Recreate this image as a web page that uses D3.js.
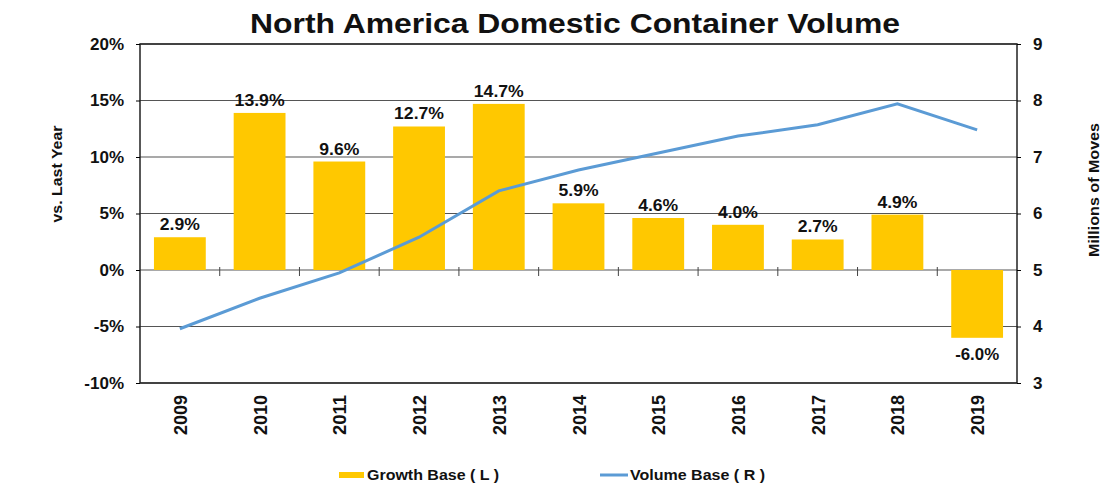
<!DOCTYPE html>
<html>
<head>
<meta charset="utf-8">
<script src="https://cdn.jsdelivr.net/npm/d3@7"></script>
<style>
  body { margin: 0; background: #fff; }
  text { font-family: "Liberation Sans", Arial, sans-serif; font-weight: bold; fill: #111; }
</style>
</head>
<body>
<div id="chart"></div>
<script>
// Chart data
var years = ["2009", "2010", "2011", "2012", "2013", "2014", "2015", "2016", "2017", "2018", "2019"];
var growth = [2.9, 13.9, 9.6, 12.7, 14.7, 5.9, 4.6, 4.0, 2.7, 4.9, -6.0];
var volume = [3.96, 4.5, 4.95, 5.58, 6.4, 6.77, 7.07, 7.37, 7.57, 7.94, 7.48];
var leftTicks = [-10, -5, 0, 5, 10, 15, 20];
var rightTicks = [3, 4, 5, 6, 7, 8, 9];

var svgWidth = 1120;
var svgHeight = 491;

var margin = { top: 44, right: 103, bottom: 108, left: 140 };
var width = svgWidth - margin.left - margin.right;
var height = svgHeight - margin.top - margin.bottom;

var svg = d3.select("#chart")
    .append("svg")
    .attr("width", svgWidth)
    .attr("height", svgHeight);

var chartGroup = svg.append("g")
    .attr("transform", `translate(${margin.left}, ${margin.top})`);

// Scales
var xScale = d3.scaleBand()
    .domain(years)
    .range([0, width])
    .paddingInner(0.35)
    .paddingOuter(0.175);

var yLeft = d3.scaleLinear().domain([-10, 20]).range([height, 0]);
var yRight = d3.scaleLinear().domain([3, 9]).range([height, 0]);

// Gridlines
chartGroup.selectAll(".grid")
    .data(leftTicks)
    .enter()
    .append("line")
    .attr("x1", 0)
    .attr("x2", width)
    .attr("y1", d => yLeft(d))
    .attr("y2", d => yLeft(d))
    .attr("stroke", "#555")
    .attr("stroke-width", 1.2);

// Bars
chartGroup.selectAll(".bar")
    .data(growth)
    .enter()
    .append("rect")
    .attr("x", (d, i) => xScale(years[i]))
    .attr("y", d => yLeft(Math.max(0, d)))
    .attr("width", xScale.bandwidth())
    .attr("height", d => Math.abs(yLeft(d) - yLeft(0)))
    .attr("fill", "#ffc800");

// Small category ticks crossing the zero line
chartGroup.selectAll(".ctick")
    .data(years.slice(1))
    .enter()
    .append("line")
    .attr("x1", d => xScale(d) - xScale.step() * xScale.paddingInner() / 2)
    .attr("x2", d => xScale(d) - xScale.step() * xScale.paddingInner() / 2)
    .attr("y1", yLeft(0) - 3)
    .attr("y2", yLeft(0) + 6)
    .attr("stroke", "#444")
    .attr("stroke-width", 1);

// Bar value labels
chartGroup.selectAll(".val")
    .data(growth)
    .enter()
    .append("text")
    .attr("x", (d, i) => xScale(years[i]) + xScale.bandwidth() / 2)
    .attr("y", d => d >= 0 ? yLeft(d) - 7 : yLeft(d) + 22)
    .attr("text-anchor", "middle")
    .attr("font-size", 17)
    .attr("textLength", d => d < 0 ? 44 : (Math.abs(d) >= 10 ? 50 : 40))
    .attr("lengthAdjust", "spacingAndGlyphs")
    .text(d => d.toFixed(1) + "%");

// Volume line
var line = d3.line()
    .x((d, i) => xScale(years[i]) + xScale.bandwidth() / 2)
    .y(d => yRight(d));

chartGroup.append("path")
    .datum(volume)
    .attr("d", line)
    .attr("fill", "none")
    .attr("stroke", "#5b9bd5")
    .attr("stroke-width", 3);

// Frame
chartGroup.append("rect")
    .attr("x", 0)
    .attr("y", 0)
    .attr("width", width)
    .attr("height", height)
    .attr("fill", "none")
    .attr("stroke", "#222")
    .attr("stroke-width", 1.5);

// Left axis
var leftAxis = d3.axisLeft(yLeft)
    .tickValues(leftTicks)
    .tickSize(4)
    .tickPadding(12)
    .tickFormat(d => d + "%");
var gl = chartGroup.append("g").call(leftAxis);
gl.select(".domain").remove();
gl.selectAll("text").attr("font-size", 17).attr("fill", "#111");

// Right axis
var rightAxis = d3.axisRight(yRight)
    .tickValues(rightTicks)
    .tickSize(4)
    .tickPadding(12)
    .tickFormat(d3.format("d"));
var gr = chartGroup.append("g")
    .attr("transform", `translate(${width}, 0)`)
    .call(rightAxis);
gr.select(".domain").remove();
gr.selectAll("text").attr("font-size", 17).attr("fill", "#111");

// X axis labels (rotated years)
chartGroup.selectAll(".year")
    .data(years)
    .enter()
    .append("text")
    .attr("transform", d => `translate(${xScale(d) + xScale.bandwidth() / 2 + 7}, ${height + 12}) rotate(-90)`)
    .attr("text-anchor", "end")
    .attr("font-size", 18)
    .attr("textLength", 40)
    .attr("lengthAdjust", "spacingAndGlyphs")
    .text(d => d);

// Axis titles
svg.append("text")
    .attr("transform", `translate(${62}, ${174}) rotate(-90)`)
    .attr("text-anchor", "middle")
    .attr("font-size", 15)
    .attr("textLength", 97)
    .attr("lengthAdjust", "spacingAndGlyphs")
    .text("vs. Last Year");

svg.append("text")
    .attr("transform", `translate(${1099}, ${190}) rotate(-90)`)
    .attr("text-anchor", "middle")
    .attr("font-size", 15)
    .attr("textLength", 134)
    .attr("lengthAdjust", "spacingAndGlyphs")
    .text("Millions of Moves");

// Title
svg.append("text")
    .attr("x", 575)
    .attr("y", 33)
    .attr("text-anchor", "middle")
    .attr("font-size", 28)
    .attr("textLength", 650)
    .attr("lengthAdjust", "spacingAndGlyphs")
    .text("North America Domestic Container Volume");

// Legend
var legend = svg.append("g").attr("transform", "translate(0, 475)");
legend.append("rect")
    .attr("x", 339).attr("y", -3).attr("width", 25).attr("height", 6)
    .attr("fill", "#ffc800");
legend.append("text")
    .attr("x", 367).attr("y", 5)
    .attr("font-size", 14)
    .attr("textLength", 132)
    .attr("lengthAdjust", "spacingAndGlyphs")
    .text("Growth Base ( L )");
legend.append("line")
    .attr("x1", 600).attr("x2", 628).attr("y1", 0).attr("y2", 0)
    .attr("stroke", "#5b9bd5").attr("stroke-width", 3);
legend.append("text")
    .attr("x", 630).attr("y", 5)
    .attr("font-size", 14)
    .attr("textLength", 135)
    .attr("lengthAdjust", "spacingAndGlyphs")
    .text("Volume Base ( R )");
</script>
</body>
</html>
